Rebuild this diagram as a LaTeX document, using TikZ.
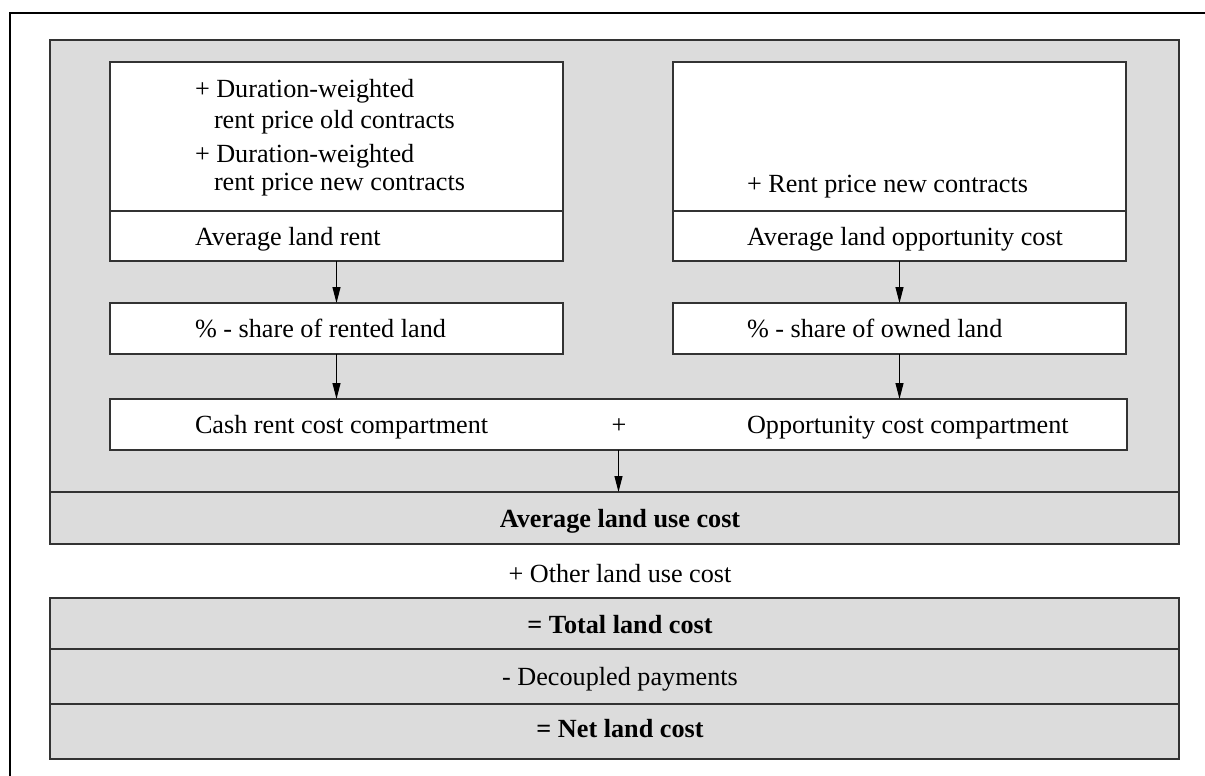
\documentclass[tikz,border=0pt]{standalone}
\usepackage{fontspec}
\setmainfont{Liberation Serif}
\usetikzlibrary{arrows.meta}
\definecolor{panelgray}{HTML}{DCDCDC}
\definecolor{edge}{HTML}{333333}
\tikzset{
  box/.style={draw=edge, line width=1.2pt, fill=white, inner sep=0pt, outer sep=0pt, anchor=north west},
  graybox/.style={draw=edge, line width=1.2pt, fill=panelgray, inner sep=0pt, outer sep=0pt, anchor=north west},
  txt/.style={anchor=base west, inner sep=0pt, outer sep=0pt, font=\fontsize{26.2}{30}\selectfont},
  ctxt/.style={txt, anchor=base},
  btxt/.style={ctxt, font=\fontsize{26.2}{30}\selectfont\bfseries},
  arr/.style={-{Triangle[length=16pt,width=8pt]}, line width=1.1pt, draw=black}
}
\begin{document}
\begin{tikzpicture}[x=1pt,y=-1pt]
\useasboundingbox (0,0) rectangle (1205,776);
% outer frame (cut off at right and bottom)
\draw[line width=1.5pt] (1215,13) -- (10,13) -- (10,786);
% big gray panel
\node[graybox, minimum width=1129pt, minimum height=504pt] (panel) at (50,40) {};
% top left
\node[box, minimum width=453pt, minimum height=149pt] (lt) at (110,62) {};
\node[box, minimum width=453pt, minimum height=50pt] (ltb) at (110,211) {};
% top right
\node[box, minimum width=453pt, minimum height=149pt] (rt) at (673,62) {};
\node[box, minimum width=453pt, minimum height=50pt] (rtb) at (673,211) {};
% share boxes
\node[box, minimum width=453pt, minimum height=51pt] (ls) at (110,303) {};
\node[box, minimum width=453pt, minimum height=51pt] (rs) at (673,303) {};
% compartment
\node[box, minimum width=1017pt, minimum height=51pt] (comp) at (110,399) {};
% average land use cost
\node[graybox, minimum width=1129pt, minimum height=52pt] (alu) at (50,492) {};
% bottom stack
\node[graybox, minimum width=1129pt, minimum height=51pt] (tot) at (50,598) {};
\node[graybox, minimum width=1129pt, minimum height=55pt] (dec) at (50,649) {};
\node[graybox, minimum width=1129pt, minimum height=55pt] (net) at (50,704) {};
% texts
\node[txt] (t1) at (195,97) {+ Duration-weighted};
\node[txt] (t2) at (214,128) {rent price old contracts};
\node[txt] (t3) at (195,162) {+ Duration-weighted};
\node[txt] (t4) at (214,190) {rent price new contracts};
\node[txt] (t5) at (195,245) {Average land rent};
\node[txt] (t6) at (747,192) {+ Rent price new contracts};
\node[txt] (t7) at (747,245) {Average land opportunity cost};
\node[txt] (t8) at (195,337) {\% - share of rented land};
\node[txt] (t9) at (747,337) {\% - share of owned land};
\node[txt] (t10) at (195,433) {Cash rent cost compartment};
\node[ctxt] (t11) at (619,433) {+};
\node[txt] (t12) at (747,433) {Opportunity cost compartment};
\node[btxt] (t13) at (620,527) {Average land use cost};
\node[ctxt] (t14) at (620,582) {+ Other land use cost};
\node[btxt] (t15) at (620,633) {= Total land cost};
\node[ctxt] (t16) at (620,685) {- Decoupled payments};
\node[btxt] (t17) at (620,737) {= Net land cost};
% arrows
\draw[arr] (ltb.south) -- (ls.north);
\draw[arr] (rtb.south) -- (rs.north);
\draw[arr] (ls.south) -- (ls.south |- comp.north);
\draw[arr] (rs.south) -- (rs.south |- comp.north);
\draw[arr] (comp.south) -- (comp.south |- alu.north);
\end{tikzpicture}
\end{document}
